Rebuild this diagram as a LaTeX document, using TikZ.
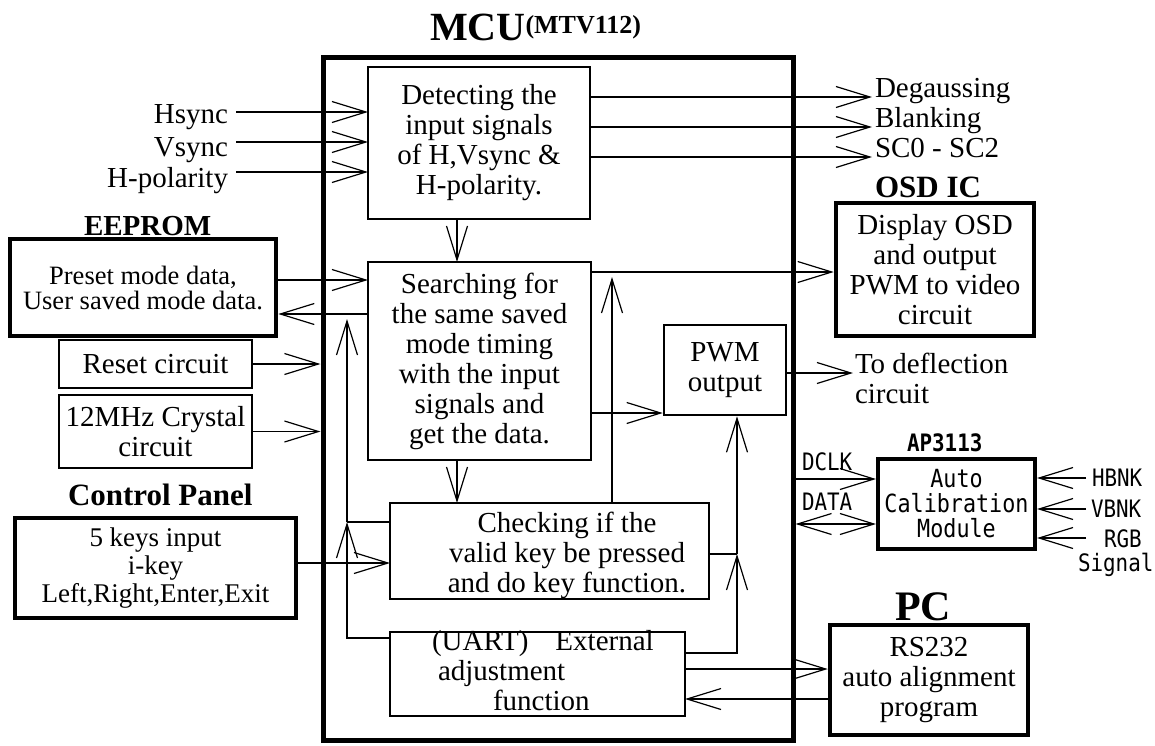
\documentclass[tikz,border=0pt]{standalone}
\usepackage{fontspec}
\setmainfont{Liberation Serif}
\newfontfamily\monof[FakeStretch=0.87]{DejaVu Sans Mono}
\usetikzlibrary{arrows.meta}
\tikzset{
  every node/.style={inner sep=0pt, outer sep=0pt},
  tx/.style={font=\fontsize{29}{30}\selectfont, align=center},
  thinbox/.style={draw, line width=1.2pt},
  thickbox/.style={draw, line width=4.5pt, outer sep=2.25pt},
  ttl/.style={font=\fontsize{#1}{#1}\selectfont\bfseries},
  mono/.style={font=\fontsize{24}{24}\monof},
  arr/.style={line width=1.2pt, -{Straight Barb[length=34pt,width=21pt]}},
  darr/.style={line width=1.2pt, {Straight Barb[length=34pt,width=21pt]}-{Straight Barb[length=34pt,width=21pt]}},
  ln/.style={line width=1.2pt},
}
\begin{document}
\begin{tikzpicture}[x=1pt,y=-1pt]
\path[fill=white, use as bounding box] (0,0) rectangle (1155,745);

% row / column coordinates
\coordinate (colA) at (457,0);
\coordinate (colB) at (612,0);
\coordinate (colR) at (737,0);
\coordinate (colL) at (347,0);
\coordinate (rowOSD) at (0,272);
\coordinate (rowPWM) at (0,413);
\coordinate (rowEE1) at (0,280);
\coordinate (rowEE2) at (0,314);
\coordinate (rowCP) at (0,563);
\coordinate (rowChkL) at (0,522);
\coordinate (rowChkR) at (0,554);
\coordinate (rowUL) at (0,638);
\coordinate (rowUR) at (0,653);
\coordinate (rowPC1) at (0,669);
\coordinate (rowPC2) at (0,699);
\coordinate (rowDCLK) at (0,479);
\coordinate (rowDATA) at (0,524);
\coordinate (tipL) at (0,319);
\coordinate (tipB) at (0,277);
\coordinate (hsA) at (236,112);
\coordinate (vsA) at (236,142);
\coordinate (hpA) at (236,172);
\coordinate (hbA) at (1086,478);
\coordinate (vbA) at (1086,509);
\coordinate (rgA) at (1086,538);

% MCU
\node[draw, line width=5pt, outer sep=2.5pt, minimum width=470pt, minimum height=683pt] (mcu) at (558,398.5) {};
\node[ttl=40, anchor=base west] (mcut) at (430,40) {MCU};
\node[ttl=26, anchor=base west] (mtv) at ([yshift=7pt]mcut.base east) {(MTV112)};

% inner blocks
\node[thinbox, tx, minimum width=222pt, minimum height=152pt] (det) at (479,143) {Detecting the\\input signals\\of H,Vsync \&\\H-polarity.};
\node[thinbox, tx, minimum width=223pt, minimum height=198pt] (srch) at (479.5,361) {Searching for\\the same saved\\mode timing\\with the input\\signals and\\get the data.};
\node[draw, line width=2.5pt, outer sep=1.25pt, tx, minimum width=122pt, minimum height=90pt] (pwm) at (725,370) {PWM\\output};
\node[thinbox, minimum width=319pt, minimum height=96pt] (chk) at (549.5,551) {};
\node[tx] (chkt) at (567,555) {Checking if the\\valid key be pressed\\and do key function.};
\node[thinbox, minimum width=295pt, minimum height=84pt] (uart) at (537.5,674) {};
\node[tx, anchor=base west] (u1) at (432,650) {(UART)\hspace{27pt}External};
\node[tx, anchor=base west] (u2) at (438,680) {adjustment};
\node[tx, anchor=base west] (u3) at (493,710) {function};

% left side
\node[tx, anchor=base east] (hs) at (228,123) {Hsync};
\node[tx, anchor=base east] (vs) at (228,156) {Vsync};
\node[tx, anchor=base east] (hp) at (228,187) {H-polarity};
\node[ttl=29, anchor=base west] (eept) at (84,235) {EEPROM};
\node[thickbox, font=\fontsize{26.5}{25}\selectfont, align=center, minimum width=266pt, minimum height=97pt] (eep) at (143,287.5) {Preset mode data,\\User saved mode data.};
\node[thinbox, tx, minimum width=193pt, minimum height=48pt] (rst) at (155.5,364) {Reset circuit};
\node[thinbox, tx, minimum width=193pt, minimum height=73pt] (xtal) at (155.5,431.5) {12MHz Crystal\\circuit};
\node[ttl=31, anchor=base west] (cpt) at (68,505) {Control Panel};
\node[thickbox, font=\fontsize{27}{28}\selectfont, align=center, minimum width=281pt, minimum height=100pt] (cp) at (155.5,568) {5 keys input\\i-key\\Left,Right,Enter,Exit};

% right side
\node[tx, anchor=base west] (dg) at (875,97) {Degaussing};
\node[tx, anchor=base west] (bl) at (875,127) {Blanking};
\node[tx, anchor=base west] (sc) at (875,157) {SC0 - SC2};
\node[ttl=31, anchor=base west] (osdt) at (875,197) {OSD IC};
\node[thickbox, tx, minimum width=198pt, minimum height=133pt] (osd) at (935,269.5) {Display OSD\\and output\\PWM to video\\circuit};
\node[tx, anchor=base west] (df1) at (855,373) {To deflection};
\node[tx, anchor=base west] (df2) at (855,403) {circuit};
\node[font=\fontsize{24}{24}\monof\bfseries, anchor=base west] (apt) at (907,451) {AP3113};
\node[draw, line width=4pt, outer sep=2pt, font=\fontsize{25}{25}\monof, align=center, minimum width=157pt, minimum height=90pt] (ap) at (956.5,504) {Auto\\Calibration\\Module};
\node[mono, anchor=base west] (dclk) at (802,470) {DCLK};
\node[mono, anchor=base west] (data) at (802,510) {DATA};
\node[mono, anchor=base west] (hbnk) at (1092,486) {HBNK};
\node[mono, anchor=base west] (vbnk) at (1091,517) {VBNK};
\node[mono, anchor=base west] (rgb) at (1104,547) {RGB};
\node[mono, anchor=base west] (sig) at (1078,571) {Signal};
\node[ttl=42, anchor=base west] (pct) at (895,620) {PC};
\node[thickbox, tx, minimum width=198pt, minimum height=110pt] (pc) at (929,680) {RS232\\auto alignment\\program};

% connectors: inputs
\draw[arr] (hsA) -- (hsA -| det.west);
\draw[arr] (vsA) -- (vsA -| det.west);
\draw[arr] (hpA) -- (hpA -| det.west);
\draw[arr] (det.east |- dg.base) -- ([xshift=-3pt]dg.base west);
\draw[arr] (det.east |- bl.base) -- ([xshift=-3pt]bl.base west);
\draw[arr] (det.east |- sc.base) -- ([xshift=-3pt]sc.base west);

% internal flow
\draw[arr] (det.south -| colA) -- (srch.north -| colA);
\draw[arr] (srch.south -| colA) -- (chk.north -| colA);
\draw[arr] (eep.east |- rowEE1) -- (srch.west |- rowEE1);
\draw[arr] (srch.west |- rowEE2) -- (eep.east |- rowEE2);
\draw[arr] (rst.east) -- (rst.east -| mcu.west);
\draw[arr] (xtal.east) -- (xtal.east -| mcu.west);
\draw[arr] (cp.east |- rowCP) -- (chk.west |- rowCP);
\draw[arr] (srch.east |- rowOSD) -- (osd.west |- rowOSD);
\draw[arr] (srch.east |- rowPWM) -- (pwm.west |- rowPWM);
\draw[arr] (pwm.east |- df1.base) -- ([xshift=-2pt]df1.base west);
\draw[arr] (chk.north -| colB) -- (colB |- tipB);

% left feedback
\draw[arr] (uart.west |- rowUL) -| (colL |- rowChkL);
\draw[arr] (colL |- rowChkL) -- (colL |- tipL);
\draw[ln] (chk.west |- rowChkL) -- (colL |- rowChkL);

% right feedback
\draw[arr] (uart.east |- rowUR) -| (colR |- rowChkR);
\draw[arr] (colR |- rowChkR) -- (colR |- pwm.south);
\draw[ln] (chk.east |- rowChkR) -- (colR |- rowChkR);

% PC
\draw[arr] (uart.east |- rowPC1) -- (pc.west |- rowPC1);
\draw[arr] (pc.west |- rowPC2) -- (uart.east |- rowPC2);

% AP3113
\draw[arr] (mcu.east |- rowDCLK) -- (ap.west |- rowDCLK);
\draw[darr] (mcu.east |- rowDATA) -- (ap.west |- rowDATA);
\draw[arr] (hbA) -- (hbA -| ap.east);
\draw[arr] (vbA) -- (vbA -| ap.east);
\draw[arr] (rgA) -- (rgA -| ap.east);
\end{tikzpicture}
\end{document}
